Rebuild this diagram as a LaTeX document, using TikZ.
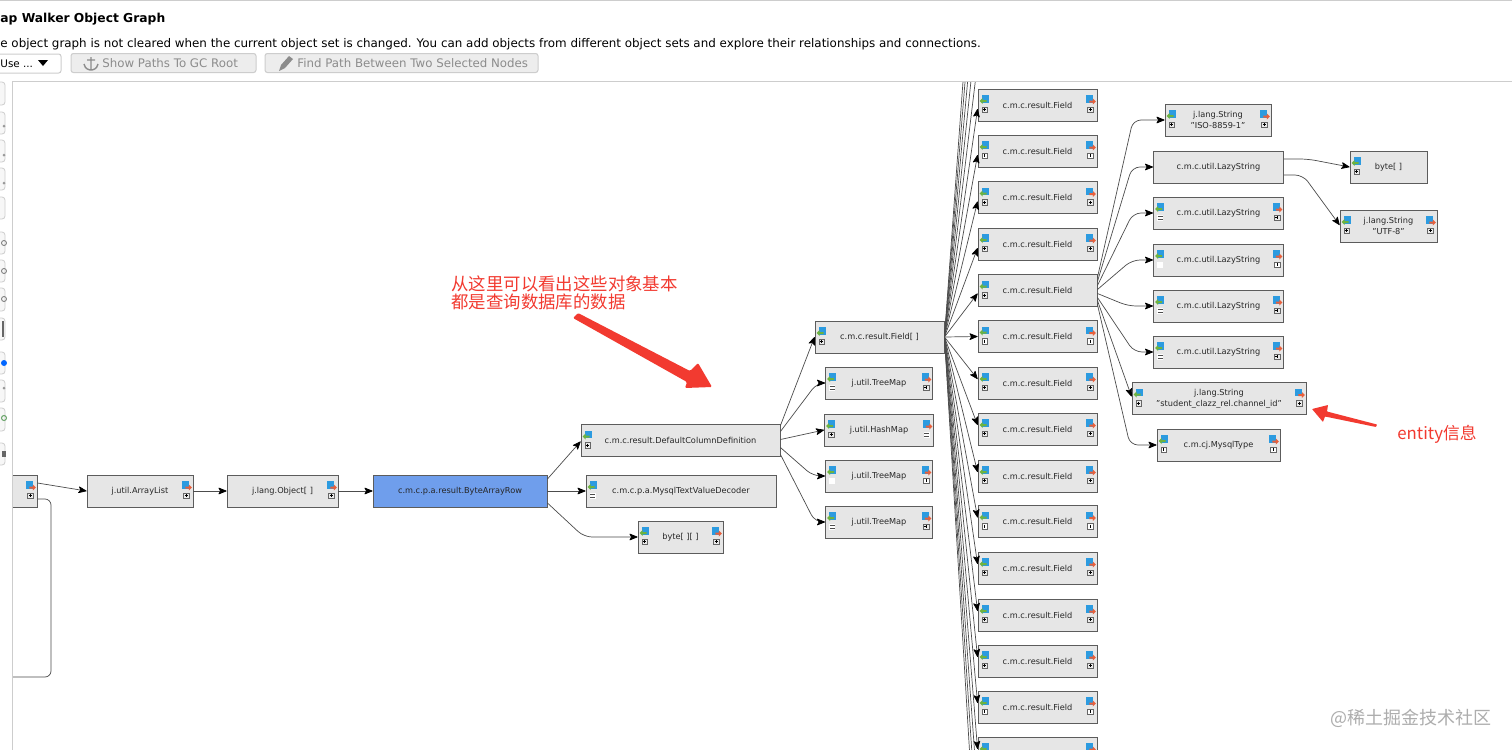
\documentclass[tikz,border=0pt]{standalone}
\usepackage{fontspec}
\usepackage{xcolor}
\usetikzlibrary{arrows.meta, positioning}
\setmainfont{DejaVu Sans}
\newfontfamily\cjk{Noto Sans CJK SC}

\definecolor{boxgray}{HTML}{E6E6E6}
\definecolor{boxline}{HTML}{5C5C5C}
\definecolor{rowblue}{HTML}{6F9EEC}
\definecolor{noteline}{HTML}{F23A30}
\definecolor{frameline}{HTML}{CDCDCD}
\definecolor{iconblue}{HTML}{2C9BE0}
\definecolor{icongreen}{HTML}{6DB33F}
\definecolor{iconred}{HTML}{E8603C}

\tikzset{
    objbox/.style={draw=boxline, fill=boxgray, line width=.45pt, minimum height=16pt, inner sep=0pt, align=center, font=\fontsize{4.1}{5.6}\selectfont, text=black!85},
    edge/.style={draw=black!70, line width=.35pt, rounded corners=4pt, -{Stealth[length=4.5pt, width=3.6pt, round, inset=1pt, color=black]}},
    btnbox/.style={draw=frameline, fill=black!7, line width=.5pt, rounded corners=1.2pt, minimum height=9.5pt, inner sep=0pt},
    btntext/.style={anchor=west, inner sep=0pt, font=\fontsize{5.9}{7}\selectfont, text=black!45},
    toolbtn/.style={draw=frameline, fill=black!3, line width=.4pt, rounded corners=1.5pt},
    note/.style={text=noteline, inner sep=0pt, align=left},
    pics/iconin/.style={code={
        \fill[iconblue] (-3,-3.5) rectangle (4,4);
        \fill[icongreen] (-5,2.5) -- (-2,-.5) -- (-2,1.5) -- (2,1.5) -- (2,3.5) -- (-2,3.5) -- (-2,5.5) -- cycle;
    }},
    pics/iconout/.style={code={
        \fill[iconblue] (-4,-3.5) rectangle (3,4);
        \fill[iconred] (5.5,3) -- (2.5,0) -- (2.5,2) -- (-1,2) -- (-1,4) -- (2.5,4) -- (2.5,6) -- cycle;
    }},
    pics/markp/.style={code={
        \draw[fill=black!8, draw=black!60, line width=.2pt] (-2.8,-2.8) rectangle (2.8,2.8);
        \draw[black, line width=.35pt] (-1.5,0) -- (1.5,0) (0,-1.5) -- (0,1.5);
    }},
    pics/marki/.style={code={
        \draw[fill=white, draw=black!60, line width=.2pt] (-2.8,-2.8) rectangle (2.8,2.8);
        \draw[black, line width=.35pt] (0,-1.5) -- (0,1.5);
    }},
    pics/markm/.style={code={
        \fill[white] (-3,-3) rectangle (3,3);
        \draw[black!70, line width=.3pt] (-2.5,-1.5) -- (2.5,-1.5) (-2.5,2) -- (2.5,2);
    }},
    pics/markb/.style={code={
        \fill[white] (-3,-3) rectangle (3,3);
    }},
}

% one object of the graph: name, centre x, centre y, width, text, left mark, right mark (n = no icons)
\def\nomark{n}
\newcommand{\drawobj}[8][boxgray]{%
    \node[objbox, fill=#1, minimum width=#5*.5pt] (#2) at (#3,#4) {#6};
    \edef\lmark{#7}\edef\rmark{#8}%
    \ifx\lmark\nomark\else
        \path ([shift={(7,-6.5)}]#2.west) pic {iconin};
        \path ([shift={(7,4.5)}]#2.west) pic {mark\lmark};
    \fi
    \ifx\rmark\nomark\else
        \path ([shift={(-7,-6.5)}]#2.east) pic {iconout};
        \path ([shift={(-7,4.5)}]#2.east) pic {mark\rmark};
    \fi
}

\begin{document}
\begin{tikzpicture}[x=.5pt, y=-.5pt]
    \useasboundingbox[fill=white] (0,0) rectangle (1512,750);

    % header
    \fill[frameline] (0,0) rectangle (1512,1);
    \node[anchor=base west, inner sep=0pt, font=\bfseries\fontsize{6.15}{8}\selectfont] (title) at (0,22) {ap Walker Object Graph};
    \node[anchor=base west, inner sep=0pt, font=\fontsize{5.95}{7}\selectfont] (hint) at (0,47) {e object graph is not cleared when the current object set is changed. You can add objects from different object sets and explore their relationships and connections.};
    \node[btnbox, fill=white, minimum width=71*.5pt] (usebtn) at (25.5,63.5) {};
    \node[btntext, text=black, font=\fontsize{5.2}{7}\selectfont] (usetxt) at (0,63.5) {Use ...};
    \fill (38,60) -- (48,60) -- (43,66) -- cycle;
    \node[btnbox, minimum width=185*.5pt] (showbtn) at (163.5,63) {};
    \node[btntext] (showtxt) at (102,63) {Show Paths To GC Root};
    \node[btnbox, minimum width=273*.5pt] (findbtn) at (401.5,63) {};
    \node[btntext] (findtxt) at (297,63) {Find Path Between Two Selected Nodes};
    \draw[black!45, line width=.7pt] (91,57) -- (91,69) (87,60) -- (95,60) (84,64) .. controls (85,69) and (89,70) .. (91,70) .. controls (93,70) and (97,69) .. (98,64);
    \fill[black!45] (279,71) -- (281,65) -- (289,56) -- (293,59) -- (285,68) -- cycle;

    % tool strip on the left
    \foreach \ya/\yb in {82/105, 112/134, 140/162, 168/190, 197/219, 232/254, 260/282, 288/311, 318/340, 352/374, 380/402, 408/431, 443/465} {
        \draw[toolbtn] (-10,\ya) rectangle (5,\yb);
    }
    \fill[black!40] (4,126) circle (1.5) (4,155) circle (1.5) (4,183) circle (1.5) (4,388) circle (1.5);
    \draw[black!55, line width=.4pt] (4,243) circle (2.5) (4,271) circle (2.5) (4,299) circle (2.5);
    \draw[black!60, line width=.6pt] (3,321) -- (3,337);
    \fill[blue!60!cyan] (4,363) circle (3);
    \draw[green!40!black!60, line width=.5pt] (4,418) circle (2.5);
    \fill[black!60] (2,451) rectangle (6,457);

    \begin{scope}
        \clip (12,81) rectangle (1512,750);

        % boxes of the chain
        \drawobj{leftlist}{-40}{491}{154}{}{n}{p}
        \drawobj{arraylist}{140}{491}{106}{j.util.ArrayList}{n}{p}
        \drawobj{objarray}{282.5}{491}{111}{j.lang.Object[ ]}{n}{p}
        \drawobj[rowblue]{bytearrayrow}{460}{491}{174}{c.m.c.p.a.result.ByteArrayRow}{n}{n}
        \drawobj{columndef}{680.5}{440.5}{199}{c.m.c.result.DefaultColumnDefinition}{p}{n}
        \drawobj{decoder}{681}{491}{190}{c.m.c.p.a.MysqlTextValueDecoder}{m}{n}
        \drawobj{bytematrix}{680.5}{537}{85}{byte[ ][ ]}{p}{p}
        \drawobj{fieldarray}{879.5}{337}{129}{c.m.c.result.Field[ ]}{p}{n}
        \drawobj{treemapa}{879}{383}{107}{j.util.TreeMap}{m}{p}
        \drawobj{hashmap}{879}{430}{109}{j.util.HashMap}{p}{m}
        \drawobj{treemapb}{879}{476}{107}{j.util.TreeMap}{b}{i}
        \drawobj{treemapc}{879}{522}{107}{j.util.TreeMap}{m}{p}

        % the long column of fields
        \foreach \fy/\lm/\rk [count=\i] in {105/p/p, 151/i/i, 197.5/p/p, 244/p/p, 290.5/p/n, 336.5/i/i, 383/p/p, 429/p/p, 476/p/p, 521.5/i/i, 568/p/p, 615/p/p, 661/p/p, 707/i/i} {
            \drawobj{field\i}{1037.5}{\fy}{119}{c.m.c.result.Field}{\lm}{\rk}
        }
        \drawobj{field15}{1037.5}{753}{119}{}{p}{p}

        % what hangs off the fifth field
        \drawobj{isostring}{1218}{120}{106}{j.lang.String\\"ISO-8859-1"}{p}{p}
        \drawobj{lazya}{1218.5}{167}{130}{c.m.c.util.LazyString}{n}{n}
        \drawobj{lazyb}{1218.5}{213}{130}{c.m.c.util.LazyString}{m}{p}
        \drawobj{lazyc}{1218.5}{260}{130}{c.m.c.util.LazyString}{b}{i}
        \drawobj{lazyd}{1218.5}{306}{130}{c.m.c.util.LazyString}{m}{p}
        \drawobj{lazye}{1218.5}{352}{130}{c.m.c.util.LazyString}{m}{p}
        \drawobj{channelstring}{1219}{398.5}{174}{j.lang.String\\"student\_clazz\_rel.channel\_id"}{p}{p}
        \drawobj{mysqltype}{1218.5}{445}{123}{c.m.cj.MysqlType}{i}{i}
        \drawobj{bytearray}{1388.5}{167}{77}{byte[ ]}{p}{n}
        \drawobj{utfstring}{1388.5}{226}{97}{j.lang.String\\"UTF-8"}{p}{p}

        % connectors
        \draw[edge] ([yshift=4pt]leftlist.east) -- (arraylist.west);
        \draw[draw=black!70, line width=.35pt, rounded corners=3pt] ([yshift=-4pt]leftlist.east) -| (51,677) -- (-20,677);
        \draw[edge] (arraylist) -- (objarray);
        \draw[edge] (objarray) -- (bytearrayrow);
        \draw[edge] ([yshift=6pt]bytearrayrow.east) -- ([yshift=-.5pt]columndef.west);
        \draw[edge] (bytearrayrow) -- (decoder);
        \draw[edge] ([yshift=-6pt]bytearrayrow.east) -- (584,537) -- (bytematrix.west);

        \draw[edge] ([yshift=7.5pt]columndef.east) -- (fieldarray.west);
        \draw[edge] ([yshift=4.5pt]columndef.east) -- (817,383) -- (treemapa.west);
        \draw[edge] ([yshift=.5pt]columndef.east) -- (hashmap.west);
        \draw[edge] ([yshift=-3.5pt]columndef.east) -- (813,476) -- (treemapb.west);
        \draw[edge] ([yshift=-7pt]columndef.east) -- (815,522) -- (treemapc.west);

        \foreach \i/\ty in {1/4, 2/4, 3/4, 4/4, 5/3, 6/0, 7/-4, 8/-4, 9/-4, 10/-4, 11/-4, 12/-4, 13/-4, 14/-4, 15/-4} {
            \draw[edge] (fieldarray.east) -- ([shift={(0,\ty)}]field\i.west);
        }
        \foreach \fy [count=\i] in {59, 13, -33, -79, -125, 799, 845, 891} {
            \coordinate (fieldout\i) at (978,\fy);
            \draw[edge] (fieldarray.east) -- (fieldout\i);
        }

        \draw[edge] ([yshift=6.5pt]field5.east) -- (1133,120) -- (isostring.west);
        \draw[edge] ([yshift=4.5pt]field5.east) -- (1132,167) -- (lazya.west);
        \draw[edge] ([yshift=2.5pt]field5.east) -- (1133,213) -- (lazyb.west);
        \draw[edge] ([yshift=.5pt]field5.east) -- (1132,260) -- (lazyc.west);
        \draw[edge] ([yshift=-1.5pt]field5.east) -- (1128,306) -- (lazyd.west);
        \draw[edge] ([yshift=-3.5pt]field5.east) -- (1134,352) -- (lazye.west);
        \draw[edge] ([yshift=-5pt]field5.east) -- ([yshift=1pt]channelstring.west);
        \draw[edge] ([yshift=-7pt]field5.east) -- (1130,445) -- (mysqltype.west);
        \draw[edge] ([yshift=4pt]lazya.east) -- (1308,159) -- (bytearray.west);
        \draw[edge] ([yshift=-4pt]lazya.east) -- (1303,175) -- ([yshift=.5pt]utfstring.west);
    \end{scope}

    % frame of the graph area
    \draw[frameline, line width=.5pt] (1512,81) -- (12,81) -- (12,750);

    % red remarks
    \node[note, anchor=north west, font=\cjk\fontsize{8.7}{9}\selectfont] (remark) at (451,275) {从这里可以看出这些对象基本\\都是查询数据库的数据};
    \fill[noteline, rounded corners=.6pt] (578,313) -- (690,371) -- (698,363) -- (712,387) -- (685,388) -- (687,382) -- (573,318) -- cycle;
    \node[note, anchor=west, font=\cjk\fontsize{8.4}{10}\selectfont] (entitynote) at (1397,434) {entity信息};
    \fill[noteline, rounded corners=.3pt] (1377,424.5) -- (1327,411.5) -- (1328,405) -- (1312,409) -- (1323,422) -- (1325,416.5) -- (1376,427) -- cycle;

    % site mark
    \node[anchor=east, inner sep=0pt, text=black!32, font=\cjk\fontsize{9}{10}\selectfont] (sitemark) at (1492,718) {@稀土掘金技术社区};
\end{tikzpicture}
\end{document}
